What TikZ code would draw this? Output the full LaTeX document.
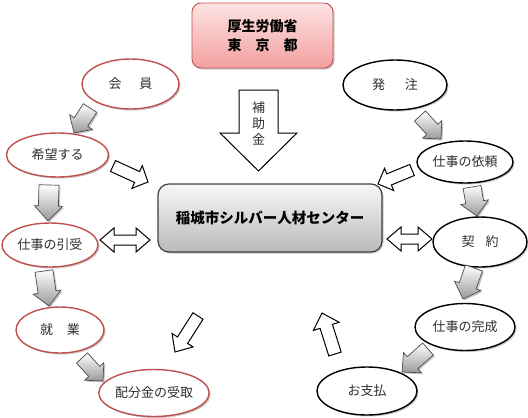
\documentclass[tikz,border=0pt]{standalone}
\usepackage{fontspec}
\newfontfamily\jp{Noto Sans CJK JP}
\usetikzlibrary{shapes.geometric,shadows}
\definecolor{ored}{HTML}{C0504D}
\definecolor{txt}{HTML}{303030}
\definecolor{pinktop}{HTML}{FDE3E3}
\definecolor{pinkbot}{HTML}{F3A0A0}

% single block arrow: style, x1,y1 (tail), x2,y2 (tip), shaft width, head width, head length
\newcommand\blockarrow[8]{%
  \pgfmathsetmacro\bkdx{#4-(#2)}%
  \pgfmathsetmacro\bkdy{#5-(#3)}%
  \pgfmathsetmacro\bkang{atan2(-\bkdy,\bkdx)}%
  \pgfmathsetmacro\bklen{veclen(\bkdx,\bkdy)}%
  \pgfmathsetmacro\bks{#6/2}%
  \pgfmathsetmacro\bkh{#7/2}%
  \pgfmathsetmacro\bkb{\bklen-#8}%
  \path[#1, shift={(#2,#3)}, rotate=\bkang]
    (0,-\bks) -- (\bkb,-\bks) -- (\bkb,-\bkh) -- (\bklen,0) -- (\bkb,\bkh) -- (\bkb,\bks) -- (0,\bks) -- cycle;}
% double block arrow
\newcommand\dblarrow[8]{%
  \pgfmathsetmacro\bkdx{#4-(#2)}%
  \pgfmathsetmacro\bkdy{#5-(#3)}%
  \pgfmathsetmacro\bkang{atan2(-\bkdy,\bkdx)}%
  \pgfmathsetmacro\bklen{veclen(\bkdx,\bkdy)}%
  \pgfmathsetmacro\bks{#6/2}%
  \pgfmathsetmacro\bkh{#7/2}%
  \pgfmathsetmacro\bkb{\bklen-#8}%
  \path[#1, shift={(#2,#3)}, rotate=\bkang]
    (0,0) -- (#8,-\bkh) -- (#8,-\bks) -- (\bkb,-\bks) -- (\bkb,-\bkh) -- (\bklen,0)
    -- (\bkb,\bkh) -- (\bkb,\bks) -- (#8,\bks) -- (#8,\bkh) -- cycle;}

\begin{document}
\begin{tikzpicture}[x=1pt,y=-1pt,
  softshadow/.style={drop shadow={shadow xshift=1.5pt,shadow yshift=-1.5pt,opacity=.22,fill=black}},
  elbase/.style={ellipse, line width=1.4pt, fill=white, inner sep=0pt, text=txt,
    font=\jp\fontsize{13}{15}\selectfont, softshadow},
  elred/.style={elbase, draw=ored},
  elblk/.style={elbase, draw=black},
  grayarr/.style={draw=black!70, line width=.7pt, line join=miter, top color=white, bottom color=black!40, softshadow},
  whitearr/.style={draw=black, line width=1pt, line join=miter, fill=white},
  topbox/.style={rectangle, rounded corners=9pt, draw=ored, line width=.9pt,
    top color=pinktop, bottom color=pinkbot, align=center, text=black,
    font=\jp\bfseries\fontsize{14}{19}\selectfont, softshadow},
  centerbox/.style={rectangle, rounded corners=11pt, draw=black!75, line width=1.2pt,
    top color=black!3, bottom color=black!27, text=black,
    font=\jp\bfseries\fontsize{14.5}{17}\selectfont, softshadow},
  lbl/.style={inner sep=0pt, align=center, text=txt, font=\jp\fontsize{13}{16}\selectfont}
]
\path[use as bounding box] (0,0) rectangle (528,418);

% top box and subsidy arrow
\node[topbox, minimum width=141pt, minimum height=65pt] (mhlw) at (262.5,35.5) {厚生労働省\\東　京　都};
\blockarrow{whitearr}{258.5}{90}{258.5}{171}{39}{77}{38}
\node[lbl] (hojo) at (258.5,123) {補\\助\\金};

% center box
\node[centerbox, minimum width=224pt, minimum height=68pt] (center) at (270,218) {稲城市シルバー人材センター};

% left ellipses
\node[elred, minimum width=97pt, minimum height=50pt] (kaiin) at (130.5,84) {会\hspace{18pt}員};
\node[elred, minimum width=102pt, minimum height=44pt] (kibou) at (57.5,155) {希望する};
\node[elred, minimum width=96pt, minimum height=44pt] (hikiuke) at (50,245) {仕事の引受};
\node[elred, minimum width=88pt, minimum height=46pt] (shugyo) at (60,330) {就\hspace{14pt}業};
\node[elred, minimum width=98pt, minimum height=47pt] (haibun) at (154,393) {配分金の受取};

% right ellipses
\node[elblk, minimum width=104pt, minimum height=50pt] (hatchu) at (395,85) {発\hspace{20pt}注};
\node[elblk, minimum width=96pt, minimum height=42pt] (irai) at (465,162) {仕事の依頼};
\node[elblk, minimum width=94pt, minimum height=50pt] (keiyaku) at (480,242) {契\hspace{11pt}約};
\node[elblk, minimum width=100pt, minimum height=47pt] (kansei) at (465,327) {仕事の完成};
\node[elblk, minimum width=100pt, minimum height=48pt] (shiharai) at (367,391) {お支払};

% left arrows
\blockarrow{grayarr}{90}{108}{74}{133}{16}{27}{13}
\blockarrow{whitearr}{113}{166}{148}{182}{12}{25}{12}
\blockarrow{grayarr}{49}{185}{48}{221}{20}{28}{15}
\dblarrow{whitearr}{100}{240}{150}{240}{10}{24}{14}
\blockarrow{grayarr}{44}{271}{49}{306}{18}{28}{14}
\blockarrow{grayarr}{82}{358}{103}{381}{15}{26}{13}
\blockarrow{whitearr}{198}{316}{175}{352}{12}{25}{14}

% right arrows
\blockarrow{grayarr}{420}{116}{441}{139}{15}{26}{13}
\blockarrow{whitearr}{412}{170}{378}{184}{12}{24}{12}
\blockarrow{grayarr}{472}{187}{477}{216}{18}{28}{14}
\dblarrow{whitearr}{387}{239}{432}{239}{10}{24}{14}
\blockarrow{grayarr}{474}{268}{463}{299}{18}{28}{14}
\blockarrow{grayarr}{428}{349}{402}{372}{16}{27}{14}
\blockarrow{whitearr}{335}{354}{322}{313}{13}{27}{14}
\end{tikzpicture}
\end{document}
